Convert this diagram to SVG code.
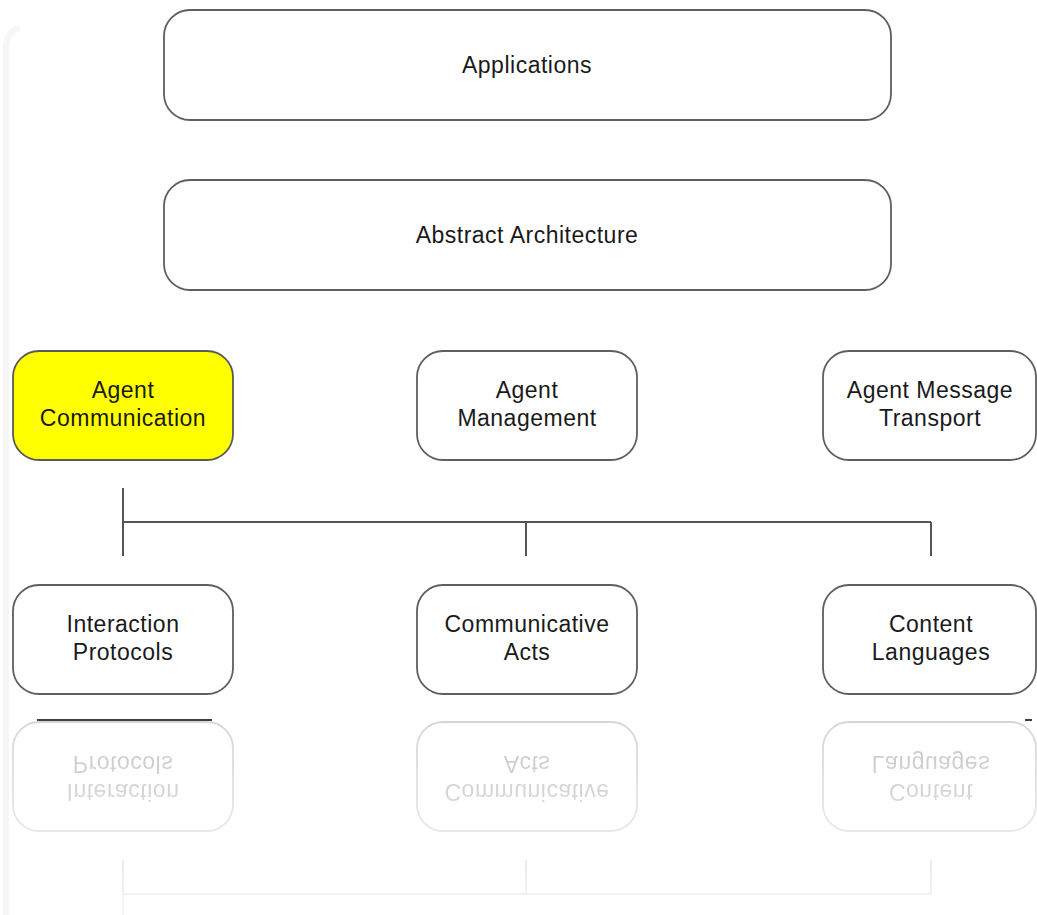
<svg xmlns="http://www.w3.org/2000/svg" width="1037" height="915" viewBox="0 0 1037 915">
  <style>
    .box { fill: #ffffff; stroke: #5f5f5f; stroke-width: 1.8; }
    .hl { fill: #ffff00; stroke: #5a5a5a; stroke-width: 1.8; }
    .lbl { font-family: "Liberation Sans", Arial, sans-serif; font-size: 23px; letter-spacing: 0.5px; fill: #1a1a1a; text-anchor: middle; }
    .wire { stroke: #555555; stroke-width: 2; fill: none; }
  </style>
  <defs>
    <linearGradient id="fade" x1="0" y1="708" x2="0" y2="915" gradientUnits="userSpaceOnUse">
      <stop offset="0" stop-color="#ffffff" stop-opacity="0.27"/>
      <stop offset="1" stop-color="#ffffff" stop-opacity="0.06"/>
    </linearGradient>
    <mask id="fadeMask" maskUnits="userSpaceOnUse" x="0" y="700" width="1037" height="215">
      <rect x="0" y="700" width="1037" height="215" fill="url(#fade)"/>
    </mask>
    <g id="lowerRow">
      <g id="interaction-protocols">
        <rect class="box" x="13" y="585" width="220" height="109" rx="26"/>
        <text class="lbl" x="123" y="632">Interaction</text>
        <text class="lbl" x="123" y="660">Protocols</text>
      </g>
      <g id="communicative-acts">
        <rect class="box" x="417" y="585" width="220" height="109" rx="26"/>
        <text class="lbl" x="527" y="632">Communicative</text>
        <text class="lbl" x="527" y="660">Acts</text>
      </g>
      <g id="content-languages">
        <rect class="box" x="823" y="585" width="213" height="109" rx="26"/>
        <text class="lbl" x="931" y="632">Content</text>
        <text class="lbl" x="931" y="660">Languages</text>
      </g>
    </g>
    <g id="branch">
      <path class="wire" d="M123 488 V556 M123 522 H931 M526 522 V556 M931 522 V556"/>
    </g>
  </defs>

  <rect width="1037" height="915" fill="#ffffff"/>
  <!-- faint backdrop edge -->
  <path d="M6 915 V50 Q6 30 20 28" fill="none" stroke="#f6f6f6" stroke-width="6"/>

  <g id="applications">
    <rect class="box" x="164" y="10" width="727" height="110" rx="26"/>
    <text class="lbl" x="527" y="73">Applications</text>
  </g>
  <g id="abstract-architecture">
    <rect class="box" x="164" y="180" width="727" height="110" rx="26"/>
    <text class="lbl" x="527" y="243">Abstract Architecture</text>
  </g>

  <g id="agent-communication">
    <rect class="hl" x="13" y="351" width="220" height="109" rx="26"/>
    <text class="lbl" x="123" y="398">Agent</text>
    <text class="lbl" x="123" y="426">Communication</text>
  </g>
  <g id="agent-management">
    <rect class="box" x="417" y="351" width="220" height="109" rx="26"/>
    <text class="lbl" x="527" y="398">Agent</text>
    <text class="lbl" x="527" y="426">Management</text>
  </g>
  <g id="agent-message-transport">
    <rect class="box" x="823" y="351" width="213" height="109" rx="26"/>
    <text class="lbl" x="930" y="398">Agent Message</text>
    <text class="lbl" x="930" y="426">Transport</text>
  </g>

  <g id="connectors">
    <use href="#branch"/>
  </g>

  <use href="#lowerRow"/>

  <!-- mirrored copy below the lower row -->
  <g id="reflection" mask="url(#fadeMask)">
    <g transform="translate(0 1416) scale(1 -1)">
      <use href="#lowerRow"/>
      <use href="#branch"/>
    </g>
  </g>

  <line x1="37" y1="720" x2="212" y2="720" stroke="#000000" stroke-width="1.5"/>
  <line x1="1025" y1="720" x2="1032" y2="720" stroke="#000000" stroke-width="1.5"/>
</svg>
